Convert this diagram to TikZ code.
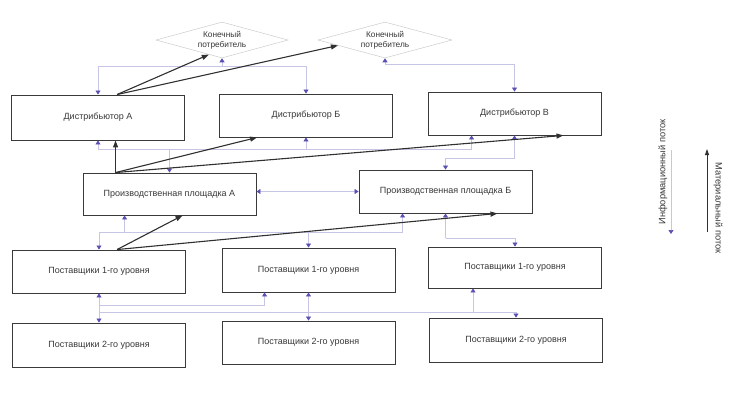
\documentclass[tikz,border=0pt]{standalone}
\usepackage{fontspec}
\setmainfont{Liberation Sans}
\usetikzlibrary{arrows.meta,shapes.geometric,calc}
\definecolor{boxline}{HTML}{3A3A3A}
\definecolor{infoline}{HTML}{C6C6E4}
\definecolor{infotip}{HTML}{5A50B4}
\definecolor{matline}{HTML}{303030}
\definecolor{txt}{HTML}{383838}
\tikzset{
 box/.style={draw=boxline, line width=0.9pt, minimum width=173pt, minimum height=43pt, inner sep=0pt, font=\fontsize{9}{10.5}\selectfont, text=txt},
 cons/.style={draw=gray!40, line width=0.5pt, shape=diamond, aspect=3.6, inner sep=0pt, minimum width=132pt, minimum height=36pt, align=center, font=\fontsize{8.3}{10}\selectfont, text=txt},
 info/.style={draw=infoline, line width=0.6pt},
 itip/.style={-{Triangle[length=4pt,width=5pt,color=infotip]}},
 ibtip/.style={{Triangle[length=4pt,width=5pt,color=infotip]}-{Triangle[length=4pt,width=5pt,color=infotip]}},
 mat/.style={draw=matline, line width=1.1pt, -{Triangle[length=7pt,width=5pt]}},
 legend/.style={font=\fontsize{9.3}{11}\selectfont, text=txt},
}
\begin{document}
\begin{tikzpicture}[x=1pt,y=-1pt]
\fill[white] (0,0) rectangle (731,392);
\useasboundingbox (0,0) rectangle (731,392);
% nodes
\node[cons] (c1) at (222,40) {Конечный\\потребитель};
\node[cons, minimum width=134pt] (c2) at (385,40) {Конечный\\потребитель};
\node[box, minimum height=45pt] (dA) at (98,117.5) {Дистрибьютор А};
\node[box] (dB) at (306,115.5) {Дистрибьютор Б};
\node[box] (dV) at (514.5,113.5) {Дистрибьютор В};
\node[box, minimum height=42pt] (pA) at (169.5,194) {Производственная площадка А};
\node[box] (pB) at (445.5,191.5) {Производственная площадка Б};
\node[box] (s11) at (99,271.5) {Поставщики 1-го уровня};
\node[box, minimum height=44pt] (s12) at (308.5,270) {Поставщики 1-го уровня};
\node[box, minimum height=41pt] (s13) at (515,267.5) {Поставщики 1-го уровня};
\node[box, minimum height=44pt] (s21) at (99,345) {Поставщики 2-го уровня};
\node[box] (s22) at (308.5,342.5) {Поставщики 2-го уровня};
\node[box, minimum height=44pt] (s23) at (516,340) {Поставщики 2-го уровня};
% junction levels
\coordinate (j1) at (0,66);
\coordinate (j2) at (0,64);
\coordinate (j3) at (0,149);
\coordinate (j4) at (0,158);
\coordinate (j6) at (0,232);
\coordinate (j7) at (0,238);
\coordinate (j8) at (0,305);
\coordinate (j9) at (0,312);
\coordinate (dVb) at ([xshift=44pt]dV.south west);
\coordinate (pAb) at ([xshift=42pt]pA.south west);
\coordinate (pBb) at ([xshift=44pt]pB.south west);
\coordinate (s12b) at ([xshift=43pt]s12.south west);
\coordinate (s13b) at ([xshift=45pt]s13.south west);
% information flow
\draw[info] (dA.north |- j1) -- (dB.north |- j1);
\draw[info,itip] (c1.south |- j1) -- (c1.south);
\draw[info,itip] (dA.north |- j1) -- (dA.north);
\draw[info,itip] (dB.north |- j1) -- (dB.north);
\draw[info] (c2.south |- j2) -- (dV.north |- j2);
\draw[info,itip] (c2.south |- j2) -- (c2.south);
\draw[info,itip] (dV.north |- j2) -- (dV.north);
\draw[info] (dA.south |- j3) -- (dVb |- j3);
\draw[info,itip] (dA.south |- j3) -- (dA.south);
\draw[info,itip] (dB.south |- j3) -- (dB.south);
\draw[info,itip] (dVb |- j3) -- (dVb);
\draw[info,itip] (pA.north |- j3) -- (pA.north);
\draw[info,itip] (dV.south |- j4) -- (dV.south);
\draw[info] (dV.south |- j4) -- (pB.north |- j4);
\draw[info,itip] (pB.north |- j4) -- (pB.north);
\draw[info,ibtip] (pB.west -| pA.east) -- (pB.west);
\draw[info] (s11.north |- j6) -- (pBb |- j6);
\draw[info,itip] (pAb |- j6) -- (pAb);
\draw[info,itip] (pBb |- j6) -- (pBb);
\draw[info,itip] (s11.north |- j6) -- (s11.north);
\draw[info,itip] (s12.north |- j6) -- (s12.north);
\draw[info,itip] (pB.south |- j7) -- (pB.south);
\draw[info] (pB.south |- j7) -- (s13.north |- j7);
\draw[info,itip] (s13.north |- j7) -- (s13.north);
\draw[info] (s11.south |- j8) -- (s12b |- j8);
\draw[info,itip] (s11.south |- j8) -- (s11.south);
\draw[info,itip] (s11.south |- j8) -- (s21.north);
\draw[info,itip] (s12b |- j8) -- (s12b);
\draw[info] (s11.south |- j9) -- (s23.north |- j9);
\draw[info,itip] (s12.south |- j9) -- (s12.south);
\draw[info,itip] (s22.north |- j9) -- (s22.north);
\draw[info,itip] (s13b |- j9) -- (s13b);
\draw[info,itip] (s23.north |- j9) -- (s23.north);
% material flow
\coordinate (pAt) at ([xshift=33pt]pA.north west);
\coordinate (dAt) at ([xshift=106pt]dA.north west);
\coordinate (s11t) at ([xshift=105pt]s11.north west);
\draw[mat] (pAt) -- (pAt |- dA.south);
\draw[mat] (pAt) -- ([xshift=38pt]dB.south west);
\draw[mat] (pAt) -- ([xshift=-38pt]dV.south east);
\draw[mat] (dAt) -- ($(c1.south)!0.2!(c1.west)$);
\draw[mat] (dAt) -- ($(c2.south)!0.7!(c2.west)$);
\draw[mat] (s11t) -- ([xshift=100pt]pA.south west);
\draw[mat] (s11t) -- ([xshift=-35pt]pB.south east);
% legend
\node[legend, rotate=90] (li) at (663,172) {Информационный поток};
\coordinate (liT) at (671,150);
\coordinate (liB) at (671,234);
\draw[info,itip] (liT) -- (liB);
\node[legend, rotate=-90] (lm) at (718,208) {Материальный поток};
\coordinate (lmB) at (707,232);
\coordinate (lmT) at (707,149);
\draw[matline, line width=0.8pt, -{Triangle[length=6pt,width=4pt]}] (lmB) -- (lmT);
\end{tikzpicture}
\end{document}
